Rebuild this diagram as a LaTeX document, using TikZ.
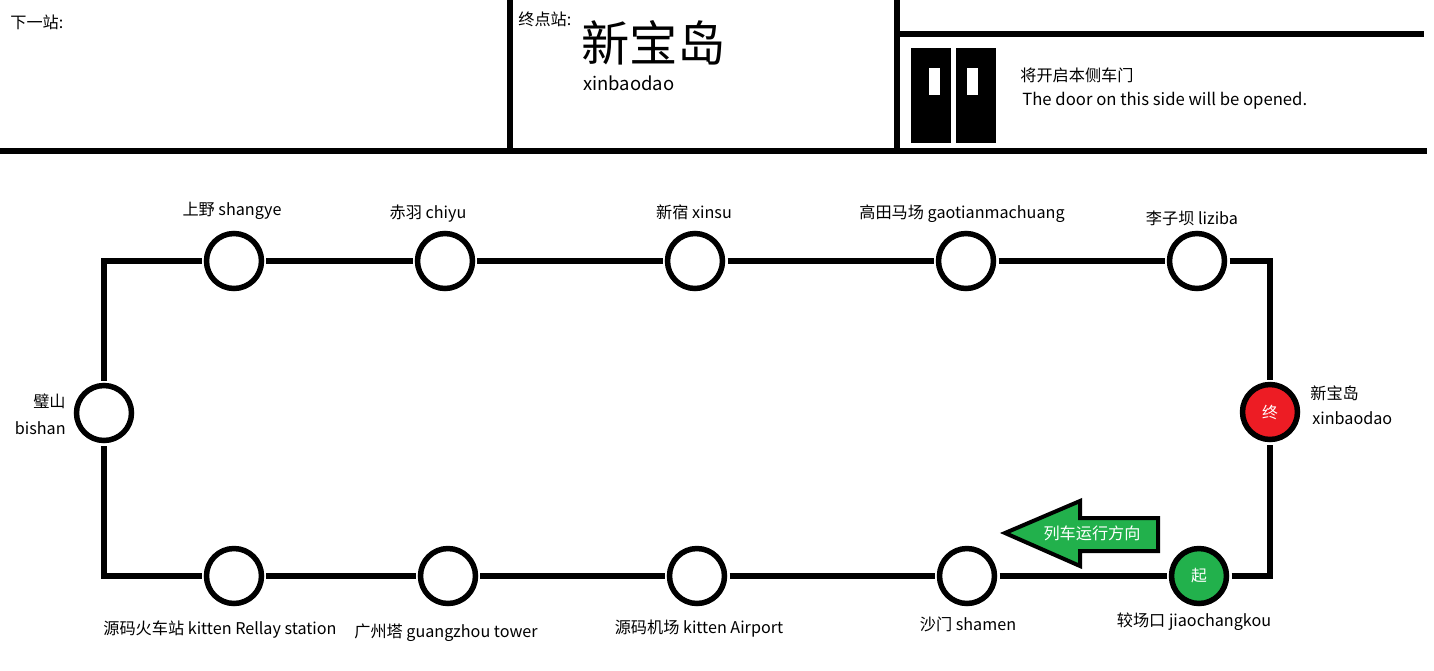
\documentclass[tikz,border=0pt]{standalone}
\usepackage{fontspec}
\setmainfont{Noto Sans CJK SC}
\usepackage{tikz}
\usetikzlibrary{positioning}
\definecolor{zred}{HTML}{ED1C24}
\definecolor{zgreen}{HTML}{22B14C}
\tikzset{
  track/.style={line width=5.5*0.02cm,black},
  stn/.style={circle,draw,line width=5.5*0.02cm,minimum size=1.1cm,inner sep=0pt,outer sep=0.1cm},
  lbl/.style={inner sep=0pt,font=\fontsize{9.2}{11}\selectfont},
  door/.style={fill=black},
}
\begin{document}
\begin{tikzpicture}[x=0.02cm,y=-0.02cm]
\useasboundingbox (0,0) rectangle (1434,670);
% top panel
\draw[track] (0,151) -- (1427,151);
\draw[track] (510,0) -- (510,154);
\draw[track] (897,0) -- (897,153);
\draw[track] (897,34) -- (1424,34);
\node[lbl,anchor=west] (next) at (10,22) {下一站:};
\node[lbl,anchor=west] (term) at (518,19) {终点站:};
\node[inner sep=0pt,anchor=west,font=\fontsize{27.5}{30}\selectfont] (termzh) at (581,43) {新宝岛};
\node[inner sep=0pt,anchor=west,font=\fontsize{10.5}{12}\selectfont] (termen) at (583,83) {xinbaodao};
% doors
\fill[door] (911,48) rectangle (951,143);
\fill[door] (956,48) rectangle (996,143);
\fill[white] (929,68) rectangle (940,95);
\fill[white] (967,68) rectangle (978,95);
\node[lbl,anchor=west] (doorzh) at (1020,75) {将开启本侧车门};
\node[inner sep=0pt,anchor=west,font=\fontsize{9.5}{11}\selectfont] (dooren) at (1022,101) {The door on this side will be opened.};
% stations
\node[stn] (sy) at (234,261) {};
\node[stn] (cy) at (445,261) {};
\node[stn] (xs) at (695,261) {};
\node[stn] (gt) at (966,261) {};
\node[stn] (lz) at (1197,261) {};
\node[stn] (bs) at (104,413) {};
\node[stn,fill=zred] (xbd) at (1270,412) {\textcolor{white}{\fontsize{9}{11}\selectfont 终}};
\node[stn] (hc) at (234,576) {};
\node[stn] (gz) at (448,576) {};
\node[stn] (jc) at (697,576) {};
\node[stn] (sm) at (967,576) {};
\node[stn,fill=zgreen] (jck) at (1199,576) {\textcolor{white}{\fontsize{9}{11}\selectfont 起}};
% track
\draw[track] (sy) -- (cy);
\draw[track] (cy) -- (xs);
\draw[track] (xs) -- (gt);
\draw[track] (gt) -- (lz);
\draw[track] (lz) -| (xbd);
\draw[track] (sy) -| (bs);
\draw[track] (hc) -| (bs);
\draw[track] (hc) -- (gz);
\draw[track] (gz) -- (jc);
\draw[track] (jc) -- (sm);
\draw[track] (sm) -- (jck);
\draw[track] (jck) -| (xbd);
% labels
\node[lbl] at (232,211) {上野 shangye};
\node[lbl] at (428,214) {赤羽 chiyu};
\node[lbl] at (694,212) {新宿 xinsu};
\node[lbl] at (962,214) {高田马场 gaotianmachuang};
\node[lbl] at (1192,218) {李子坝 liziba};
\node[lbl,anchor=east] at (66,401) {璧山};
\node[lbl,anchor=east] at (66,428) {bishan};
\node[lbl,anchor=west] at (1310,393) {新宝岛};
\node[lbl,anchor=west] at (1312,418) {xinbaodao};
\node[lbl] at (220,630) {源码火车站 kitten Rellay station};
\node[lbl] at (446,633) {广州塔 guangzhou tower};
\node[lbl] at (699,629) {源码机场 kitten Airport};
\node[lbl] at (968,624) {沙门 shamen};
\node[lbl] at (1194,622) {较场口 jiaochangkou};
% direction arrow
\draw[line width=4*0.02cm,fill=zgreen,line join=miter] (1005,533) -- (1080,501) -- (1080,518) -- (1158,518) -- (1158,551) -- (1080,551) -- (1080,566) -- cycle;
\node[lbl,text=white] (dir) at (1092,533) {列车运行方向};
\end{tikzpicture}
\end{document}
